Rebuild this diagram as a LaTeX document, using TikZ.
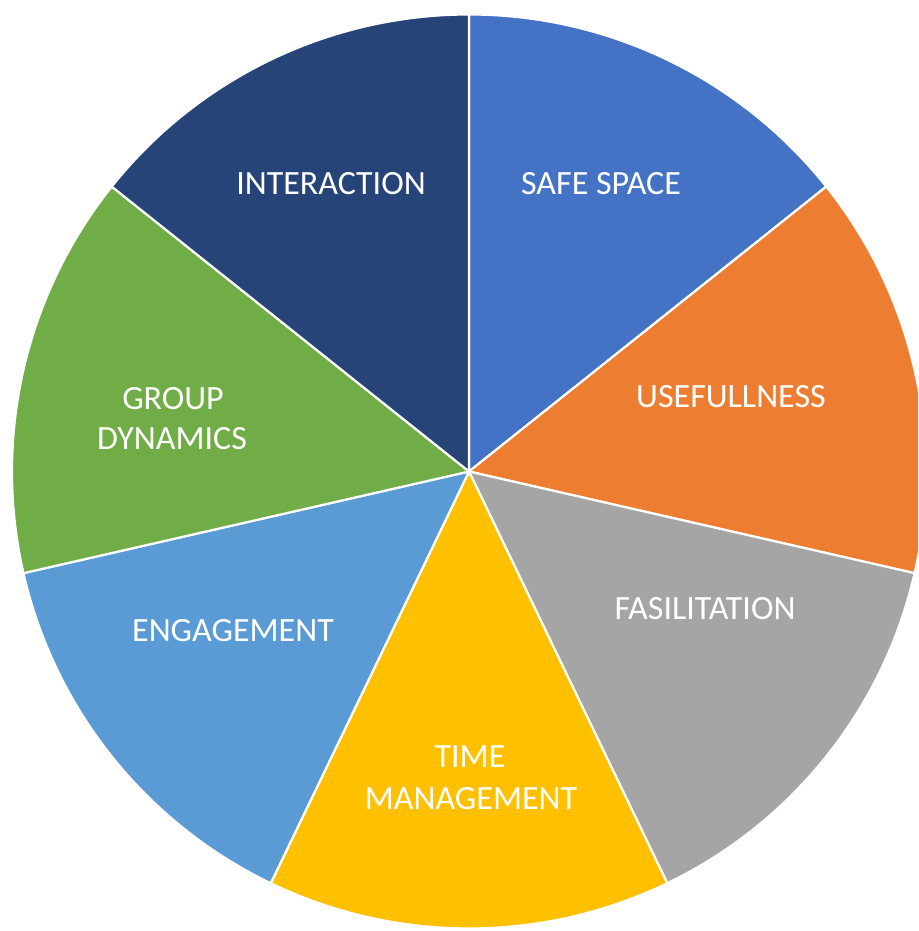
\documentclass[tikz,border=0pt]{standalone}
\usepackage{fontspec}
\setmainfont{Carlito}
\definecolor{cInter}{HTML}{264478}
\definecolor{cSafe}{HTML}{4472C4}
\definecolor{cUse}{HTML}{ED7D31}
\definecolor{cFas}{HTML}{A5A5A5}
\definecolor{cTime}{HTML}{FFC000}
\definecolor{cEng}{HTML}{5B9BD5}
\definecolor{cGroup}{HTML}{70AD47}
\tikzset{
  slice/.style={draw=white, line width=2.2pt, line join=round},
  lbl/.style={text=white, font=\fontsize{34}{41}\selectfont, anchor=base, inner sep=0pt}
}
\begin{document}
\begin{tikzpicture}[x=1pt,y=1pt]
\useasboundingbox (0,0) rectangle (918,931);
\clip (0,0) rectangle (918,931);
\coordinate (C) at (469,459.5);
\def\R{457}
\foreach \a/\b/\c in {90/38.5714/cSafe, 38.5714/-12.8571/cUse, -12.8571/-64.2857/cFas, -64.2857/-115.7143/cTime, -115.7143/-167.1429/cEng, -167.1429/-218.5714/cGroup, -218.5714/-270/cInter}{
  \filldraw[slice, fill=\c] (C) -- ++(\a:\R pt) arc[start angle=\a, end angle=\b, radius=\R pt] -- cycle;
}
\node[lbl] (inter) at (331,736) {INTERACTION};
\node[lbl] (safe) at (601,736) {SAFE SPACE};
\node[lbl] (use) at (731,523) {USEFULLNESS};
\node[lbl] (fas) at (705,311) {FASILITATION};
\node[lbl] (time1) at (470,163) {TIME};
\node[lbl] (time2) at (471,121) {MANAGEMENT};
\node[lbl] (eng) at (233,289) {ENGAGEMENT};
\node[lbl] (group1) at (173,521) {GROUP};
\node[lbl] (group2) at (172,481) {DYNAMICS};
\end{tikzpicture}
\end{document}
